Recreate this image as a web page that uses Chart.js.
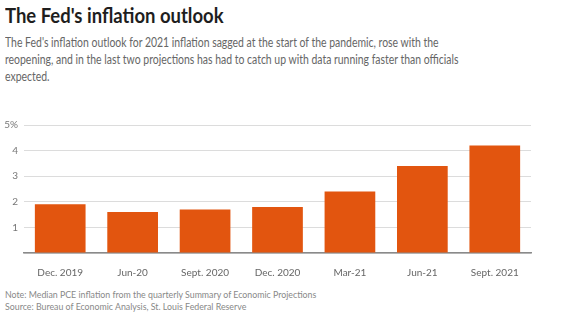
<!DOCTYPE html>
<html>
<head>
<meta charset="utf-8">
<script src="https://cdn.jsdelivr.net/npm/chart.js@4"></script>
<style>
    body { margin: 0; background: #fff; width: 585px; height: 325px; position: relative; overflow: hidden; font-family: Lato, sans-serif; }
    #title { position: absolute; left: 5px; top: 2px; font-size: 21px; font-weight: 700; color: #1e1e1e; white-space: nowrap; transform: scaleX(0.88); transform-origin: left top; }
    #subtitle { position: absolute; left: 5px; top: 34px; font-size: 12.5px; line-height: 17px; color: #666; white-space: nowrap; transform: scaleX(0.835); transform-origin: left top; }
    #chartBox { position: absolute; left: 0; top: 110px; width: 585px; height: 170px; }
    .note { position: absolute; left: 5px; font-size: 8.8px; color: #888; white-space: nowrap; }
</style>
</head>
<body>
<div id="title">The Fed's inflation outlook</div>
<div id="subtitle">The Fed's inflation outlook for 2021 inflation sagged at the start of the pandemic, rose with the<br>reopening, and in the last two projections has had to catch up with data running faster than officials<br>expected.</div>
<div id="chartBox"><canvas id="fedChart"></canvas></div>
<div class="note" style="top:289px">Note: Median PCE inflation from the quarterly Summary of Economic Projections</div>
<div class="note" style="top:301px">Source: Bureau of Economic Analysis, St. Louis Federal Reserve</div>
<script>
// projection dates and median 2021 PCE inflation (%)
const projections = ["Dec. 2019", "Jun-20", "Sept. 2020", "Dec. 2020", "Mar-21", "Jun-21", "Sept. 2021"];
const inflation = [1.9, 1.6, 1.7, 1.8, 2.4, 3.4, 4.2];
const yTicks = [0, 1, 2, 3, 4, 5];

const ctx = document.getElementById("fedChart").getContext("2d");
const fedChart = new Chart(ctx, {
    type: "bar",
    data: {
        labels: projections,
        datasets: [{
            data: inflation,
            backgroundColor: "#e2550f",
            categoryPercentage: 0.7,
            barPercentage: 1.0
        }]
    },
    options: {
        responsive: true,
        maintainAspectRatio: false,
        animation: false,
        layout: { padding: { top: 15, right: 54, left: 0, bottom: 0 } },
        plugins: { legend: { display: false }, tooltip: { enabled: false } },
        scales: {
            x: {
                grid: { display: false },
                border: { color: "#8a8a8a", width: 1.5 },
                ticks: { color: "#666", font: { family: "Lato", size: 10 }, padding: 6, maxRotation: 0 },
                afterFit: scale => { scale.height = 27; }
            },
            y: {
                min: 0,
                max: 5,
                afterBuildTicks: scale => { scale.ticks = yTicks.map(v => ({ value: v })); },
                grid: { color: "#dcdcdc", lineWidth: 1, drawTicks: false },
                border: { display: false },
                ticks: {
                    color: "#777",
                    font: { family: "Lato", size: 10 },
                    padding: 6,
                    callback: v => v === 0 ? "" : (v === 5 ? "5%" : String(v))
                },
                afterFit: scale => { scale.width = 24; }
            }
        }
    }
});
</script>
</body>
</html>
